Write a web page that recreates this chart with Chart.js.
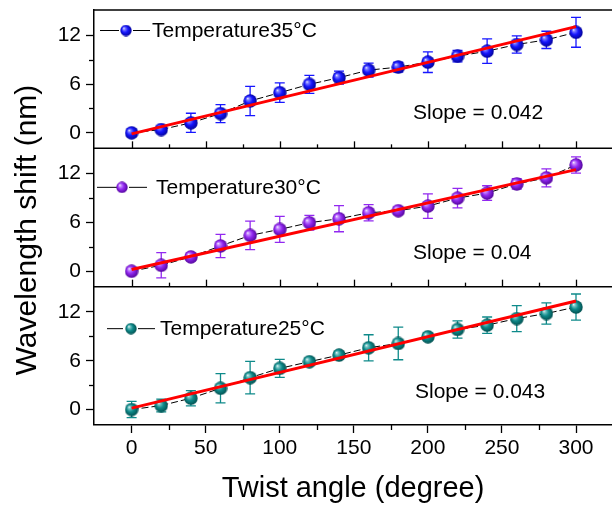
<!DOCTYPE html>
<html><head><meta charset="utf-8">
<style>html,body{margin:0;padding:0;background:#fff;overflow:hidden}#wrap{width:612px;height:506px;position:relative}</style>
<script src="https://cdn.jsdelivr.net/npm/chart.js@4.4.0/dist/chart.umd.min.js"></script>
</head><body><div id="wrap"><canvas id="c" width="612" height="506"></canvas></div>
<script>
// ---- data ----
const angles  = [0,20,40,60,80,100,120,140,160,180,200,220,240,260,280,300];
const shift35 = [0.00,0.41,1.23,2.37,3.92,4.94,5.96,6.78,7.71,8.08,8.69,9.42,10.04,10.86,11.43,12.36];
const err35   = [0.45,0.33,1.18,1.10,1.80,1.20,1.10,0.80,0.85,0.60,1.27,0.70,1.50,1.06,1.06,1.84];
const shift30 = [0.00,0.73,1.76,3.10,4.40,5.14,5.96,6.45,7.18,7.43,8.00,8.98,9.60,10.73,11.47,13.06];
const err30   = [0.33,1.55,0.40,1.43,1.75,1.60,0.90,1.60,1.00,0.40,1.50,1.20,0.90,0.65,1.10,1.00];
const shift25 = [0.00,0.49,1.39,2.61,3.92,5.06,5.88,6.69,7.59,8.12,8.94,9.84,10.37,11.18,11.80,12.60];
const err25   = [1.00,0.78,0.94,1.80,2.00,1.10,0.40,0.40,1.60,2.00,0.30,1.06,1.00,1.60,1.30,1.60];
const fitAngles = [0,300];
const fit35 = [-0.12,13.06];
const fit30 = [0.20,12.48];
const fit25 = [0.17,13.34];
const seriesLabels = ['Temperature35°C','Temperature30°C','Temperature25°C'];
const slopeLabels  = ['Slope = 0.042','Slope = 0.04','Slope = 0.043'];
const xTicks = [0,50,100,150,200,250,300];
const xMinorTicks = [25,75,125,175,225,275];
const yTicks = [0,6,12];
const yMinorTicks = [3,9];

// ---- styles / layout ----
const FONT = '"Liberation Sans", Arial, sans-serif';
const panelStyle = [
  {axis:'y1', color:'#1616ff', light:'#8080ff', dark:'#00008a', legend:{l0:100,l1:119,m:126,r0:133,r1:150,t:152,dy:20}, slope:{x:413,dy:103}},
  {axis:'y2', color:'#9228f0', light:'#c890ff', dark:'#4a0090', legend:{l0:97,l1:117,m:122,r0:129,r1:147,t:156,dy:38.5}, slope:{x:413,dy:105}},
  {axis:'y3', color:'#0e8a8a', light:'#7cc8c8', dark:'#004848', legend:{l0:107,l1:123,m:131,r0:138,r1:155,t:160,dy:41.5}, slope:{x:415,dy:106}}
];
const panelData = [
  {vals:shift35, errs:err35, fit:fit35},
  {vals:shift30, errs:err30, fit:fit30},
  {vals:shift25, errs:err25, fit:fit25}
];

function makeSphere(st, d){
  const c = document.createElement('canvas');
  c.width = d; c.height = d;
  const g = c.getContext('2d');
  const r = d/2;
  const grad = g.createRadialGradient(r*0.62, r*0.62, 0, r, r, r*1.05);
  grad.addColorStop(0, '#ffffff');
  grad.addColorStop(0.18, st.light);
  grad.addColorStop(0.5, st.color);
  grad.addColorStop(1, st.dark);
  g.fillStyle = grad;
  g.beginPath(); g.arc(r, r, r-0.3, 0, Math.PI*2); g.fill();
  return c;
}
panelStyle.forEach(st => { st.img = makeSphere(st, 14); st.legImg = makeSphere(st, 12); });

const datasets = [];
panelData.forEach((p, k) => {
  const st = panelStyle[k];
  datasets.push({
    label: seriesLabels[k],
    data: angles.map((a,i)=>({x:a, y:p.vals[i]})),
    yAxisID: st.axis,
    showLine: true,
    borderColor: '#000', borderWidth: 1, borderDash: [7,3],
    pointStyle: st.img, pointRadius: 7,
    errs: p.errs, errColor: st.color,
    order: 2
  });
  datasets.push({
    label: 'fit' + k,
    data: fitAngles.map((a,i)=>({x:a, y:p.fit[i]})),
    yAxisID: st.axis,
    showLine: true,
    borderColor: '#ff0000', borderWidth: 3,
    pointRadius: 0,
    order: 0
  });
});

function noPad(s){ s.paddingTop = 0; s.paddingBottom = 0; s.paddingLeft = 0; s.paddingRight = 0; }

function yAxis(weight){
  return {
    type:'linear', position:'left', stack:'v', stackWeight:1, weight:weight,
    min:-1.9, max:15.1,
    afterBuildTicks: s => { s.ticks = yTicks.map(v=>({value:v})); },
    afterFit: s => { s.width = 94; noPad(s); },
    ticks:{font:{family:FONT, size:21}, color:'#000', padding:5},
    grid:{drawOnChartArea:false, drawTicks:true, tickLength:8, color:'#000', tickWidth:1.3},
    border:{display:true, color:'#000', width:1.5}
  };
}

const errorBars = {
  id:'errorBars',
  beforeDatasetsDraw(chart){
    const ctx = chart.ctx, xs = chart.scales.x;
    chart.data.datasets.forEach(ds => {
      if (!ds.errs) return;
      const ys = chart.scales[ds.yAxisID];
      ctx.save();
      ctx.strokeStyle = ds.errColor; ctx.lineWidth = 1.3;
      ds.data.forEach((pt,i) => {
        const x = xs.getPixelForValue(pt.x);
        const y0 = ys.getPixelForValue(pt.y - ds.errs[i]);
        const y1 = ys.getPixelForValue(pt.y + ds.errs[i]);
        ctx.beginPath();
        ctx.moveTo(x, y0); ctx.lineTo(x, y1);
        ctx.moveTo(x-5, y0); ctx.lineTo(x+5, y0);
        ctx.moveTo(x-5, y1); ctx.lineTo(x+5, y1);
        ctx.stroke();
      });
      ctx.restore();
    });
  }
};

const deco = {
  id:'deco',
  afterDraw(chart){
    const ctx = chart.ctx, xs = chart.scales.x, a = chart.chartArea;
    const ys = panelStyle.map(st => chart.scales[st.axis]);
    ctx.save();
    ctx.strokeStyle = '#000';
    ctx.lineWidth = 1.5;
    [ys[0].top, ys[0].bottom, ys[1].bottom].forEach(y => {
      ctx.beginPath(); ctx.moveTo(a.left, y); ctx.lineTo(a.right, y); ctx.stroke();
    });
    ctx.lineWidth = 1.3;
    ys.forEach(s => {
      yMinorTicks.forEach(v => {
        const y = Math.round(s.getPixelForValue(v)) + 0.5;
        ctx.beginPath(); ctx.moveTo(a.left-5, y); ctx.lineTo(a.left, y); ctx.stroke();
      });
    });
    [ys[0].bottom, ys[1].bottom].forEach(yb => {
      xTicks.forEach(v => { const x = Math.round(xs.getPixelForValue(v))+0.5;
        ctx.beginPath(); ctx.moveTo(x, yb); ctx.lineTo(x, yb-7); ctx.stroke(); });
      xMinorTicks.forEach(v => { const x = Math.round(xs.getPixelForValue(v))+0.5;
        ctx.beginPath(); ctx.moveTo(x, yb); ctx.lineTo(x, yb-4); ctx.stroke(); });
    });
    xMinorTicks.forEach(v => { const x = Math.round(xs.getPixelForValue(v))+0.5;
      ctx.beginPath(); ctx.moveTo(x, a.bottom); ctx.lineTo(x, a.bottom+5); ctx.stroke(); });

    ctx.fillStyle = '#000';
    ctx.font = '21px ' + FONT;
    ctx.textBaseline = 'middle';
    ctx.textAlign = 'left';
    panelStyle.forEach((st, k) => {
      const top = ys[k].top, L = st.legend, y = top + L.dy;
      ctx.lineWidth = 1;
      ctx.beginPath();
      ctx.moveTo(L.l0, y+0.5); ctx.lineTo(L.l1, y+0.5);
      ctx.moveTo(L.r0, y+0.5); ctx.lineTo(L.r1, y+0.5);
      ctx.stroke();
      ctx.drawImage(st.legImg, L.m - 6, y - 6 + 0.5, 12, 12);
      ctx.fillText(seriesLabels[k], L.t, y + 1);
      ctx.fillText(slopeLabels[k], st.slope.x, top + st.slope.dy);
    });
    ctx.save();
    ctx.translate(28, 230);
    ctx.rotate(-Math.PI/2);
    ctx.textAlign = 'center';
    ctx.font = '30px ' + FONT;
    ctx.fillText('Wavelength shift (nm)', 0, 0);
    ctx.restore();
    ctx.restore();
  }
};

new Chart(document.getElementById('c'), {
  type:'scatter',
  data:{datasets},
  options:{
    responsive:false, animation:false, devicePixelRatio:1,
    layout:{autoPadding:false, padding:{top:10, right:0, left:0, bottom:0}},
    plugins:{legend:{display:false}, tooltip:{enabled:false}},
    scales:{
      x:{
        type:'linear', position:'bottom', min:-25.4, max:324.3,
        afterBuildTicks: s => { s.ticks = xTicks.map(v=>({value:v})); },
        afterFit: s => { s.height = 81; noPad(s); },
        ticks:{font:{family:FONT, size:21}, color:'#000', padding:3, maxRotation:0, autoSkip:false},
        grid:{drawOnChartArea:false, drawTicks:true, tickLength:8, color:'#000', tickWidth:1.3},
        border:{display:true, color:'#000', width:1.5},
        title:{display:true, text:'Twist angle (degree)', font:{family:FONT, size:29}, color:'#000', padding:{top:0, bottom:0}}
      },
      y1: yAxis(3),
      y2: yAxis(2),
      y3: yAxis(1)
    }
  },
  plugins:[errorBars, deco]
});
</script></body></html>
